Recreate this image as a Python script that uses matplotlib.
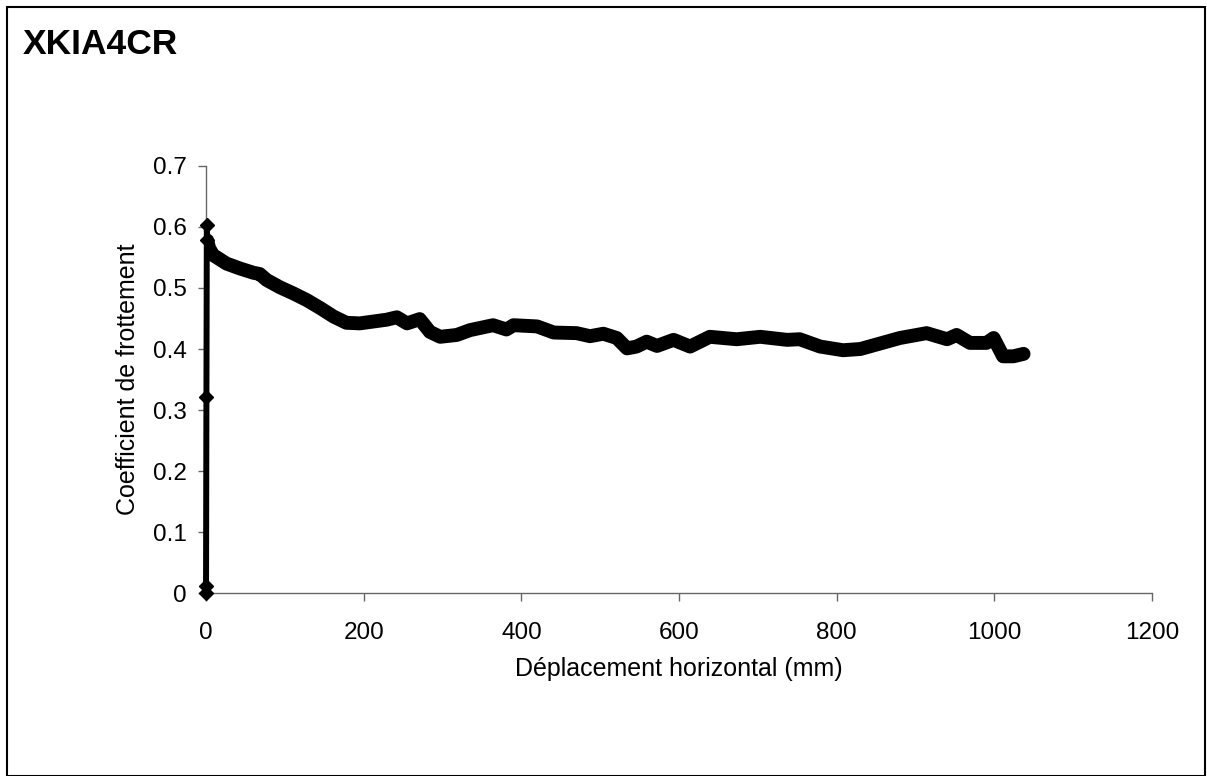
import matplotlib.pyplot as plt
from matplotlib.patches import Rectangle

plt.rcParams['font.family'] = ['Liberation Sans', 'DejaVu Sans']

# Montée initiale (points marqués)
x_debut = [0, 0, 0.5, 1, 1.5]
y_debut = [0.0, 0.012, 0.322, 0.603, 0.578]

# Coefficient de frottement vs déplacement (mm)
x_mm = [1.5, 4, 9, 26, 43, 60, 68, 77, 94, 111, 128, 145, 162, 178, 195,
        212, 229, 242, 255, 271, 284, 297, 318, 335, 364, 381, 390, 420,
        441, 470, 487, 504, 521, 534, 546, 559, 572, 593, 614, 639, 673,
        703, 737, 753, 779, 808, 830, 855, 880, 914, 940, 952, 969, 990,
        999, 1011, 1024, 1037]
coef = [0.578, 0.565, 0.554, 0.540, 0.532, 0.525, 0.523, 0.513, 0.501,
        0.491, 0.480, 0.467, 0.453, 0.443, 0.442, 0.445, 0.448, 0.452,
        0.442, 0.449, 0.428, 0.420, 0.423, 0.431, 0.439, 0.432, 0.439,
        0.437, 0.427, 0.426, 0.421, 0.425, 0.418, 0.401, 0.404, 0.412,
        0.405, 0.415, 0.404, 0.420, 0.416, 0.420, 0.415, 0.416, 0.404,
        0.398, 0.400, 0.409, 0.418, 0.426, 0.416, 0.423, 0.410, 0.410,
        0.418, 0.388, 0.388, 0.392]

x_ticks = [0, 200, 400, 600, 800, 1000, 1200]
y_ticks = [0, 0.1, 0.2, 0.3, 0.4, 0.5, 0.6, 0.7]
y_labels = ['0', '0.1', '0.2', '0.3', '0.4', '0.5', '0.6', '0.7']

fig = plt.figure(figsize=(12.07, 7.76), dpi=100)
ax = fig.add_axes([0.1707, 0.2358, 0.7838, 0.5503])

ax.plot(x_mm, coef, color='black', lw=10, solid_joinstyle='round',
        solid_capstyle='round', zorder=3)
ax.plot(x_debut, y_debut, color='black', lw=4.3, marker='D', ms=7,
        zorder=4, clip_on=False)

ax.set_xlim(0, 1200)
ax.set_ylim(0, 0.7)
ax.set_xticks(x_ticks)
ax.set_yticks(y_ticks)
ax.set_yticklabels(y_labels)

for s in ['top', 'right']:
    ax.spines[s].set_visible(False)
for s in ['left', 'bottom']:
    ax.spines[s].set_color('#666666')
    ax.spines[s].set_linewidth(1)

ax.tick_params(axis='both', direction='out', length=6, width=1,
               color='#666666', labelsize=17.5)
ax.tick_params(axis='x', pad=15)
ax.tick_params(axis='y', pad=8)

ax.set_xlabel('Déplacement horizontal (mm)', fontsize=18, labelpad=9)
ax.set_ylabel('Coefficient de frottement', fontsize=18, labelpad=9)

fig.text(23 / 1207, 1 - 54 / 776, 'XKIA4CR', fontsize=25.5, fontweight='bold',
         ha='left', va='baseline')

# cadre du graphique
fig.patches.append(Rectangle((7 / 1207, 0), 1198 / 1207, 769 / 776,
                             transform=fig.transFigure, fill=False,
                             edgecolor='black', lw=1.5))

fig.savefig('out.png', dpi=100)
